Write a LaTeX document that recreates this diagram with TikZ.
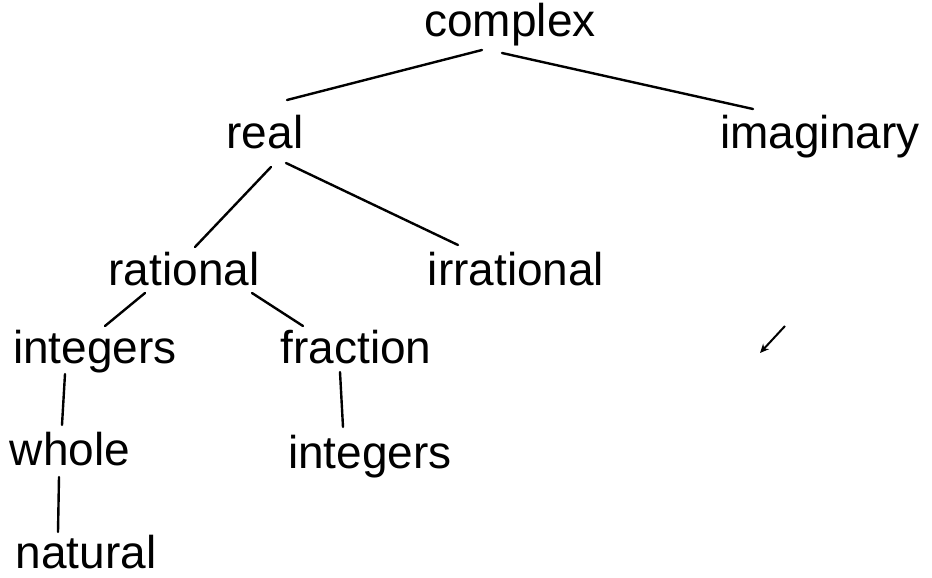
\documentclass[tikz,border=0pt]{standalone}
\usepackage{fontspec}
\setmainfont{Liberation Sans}
\usetikzlibrary{arrows.meta}
\begin{document}
\begin{tikzpicture}[x=1pt,y=-1pt,
  lbl/.style={anchor=base,inner sep=0pt,font=\fontsize{46}{55}\selectfont},
  edge/.style={line width=2.4pt,line cap=round}]
\useasboundingbox (0,0) rectangle (932,578);
\node[lbl] (complex) at (510,37) {complex};
\node[lbl] (real) at (265,148) {real};
\node[lbl] (imag) at (820,148) {imaginary};
\node[lbl] (rational) at (184,285) {rational};
\node[lbl] (irrational) at (516,285) {irrational};
\node[lbl] (intL) at (95,363) {integers};
\node[lbl] (fraction) at (356,363) {fraction};
\node[lbl] (whole) at (70,465) {whole};
\node[lbl] (intR) at (370,468) {integers};
\node[lbl] (natural) at (86,568) {natural};
\coordinate (arrowstart) at (785,326);
\coordinate (arrowend) at (760,353);
\draw[edge] ([shift={(-28,13)}]complex.base) -- ([shift={(22,-48)}]real.base);
\draw[edge] ([shift={(-8,16)}]complex.base) -- ([shift={(-67,-39)}]imag.base);
\draw[edge] ([shift={(6,19)}]real.base) -- ([shift={(11,-38)}]rational.base);
\draw[edge] ([shift={(21,15)}]real.base) -- ([shift={(-58,-40)}]irrational.base);
\draw[edge] ([shift={(-39,8)}]rational.base) -- ([shift={(10,-37)}]intL.base);
\draw[edge] ([shift={(68,8)}]rational.base) -- ([shift={(-53,-37)}]fraction.base);
\draw[edge] ([shift={(-30,11)}]intL.base) -- ([shift={(-8,-40)}]whole.base);
\draw[edge] ([shift={(-11,12)}]whole.base) -- ([shift={(-28,-36)}]natural.base);
\draw[edge] ([shift={(-16,9)}]fraction.base) -- ([shift={(-27,-41)}]intR.base);
\draw[line width=2pt,-{Stealth[length=9pt,width=8pt]}] (arrowstart) -- (arrowend);
\end{tikzpicture}
\end{document}
